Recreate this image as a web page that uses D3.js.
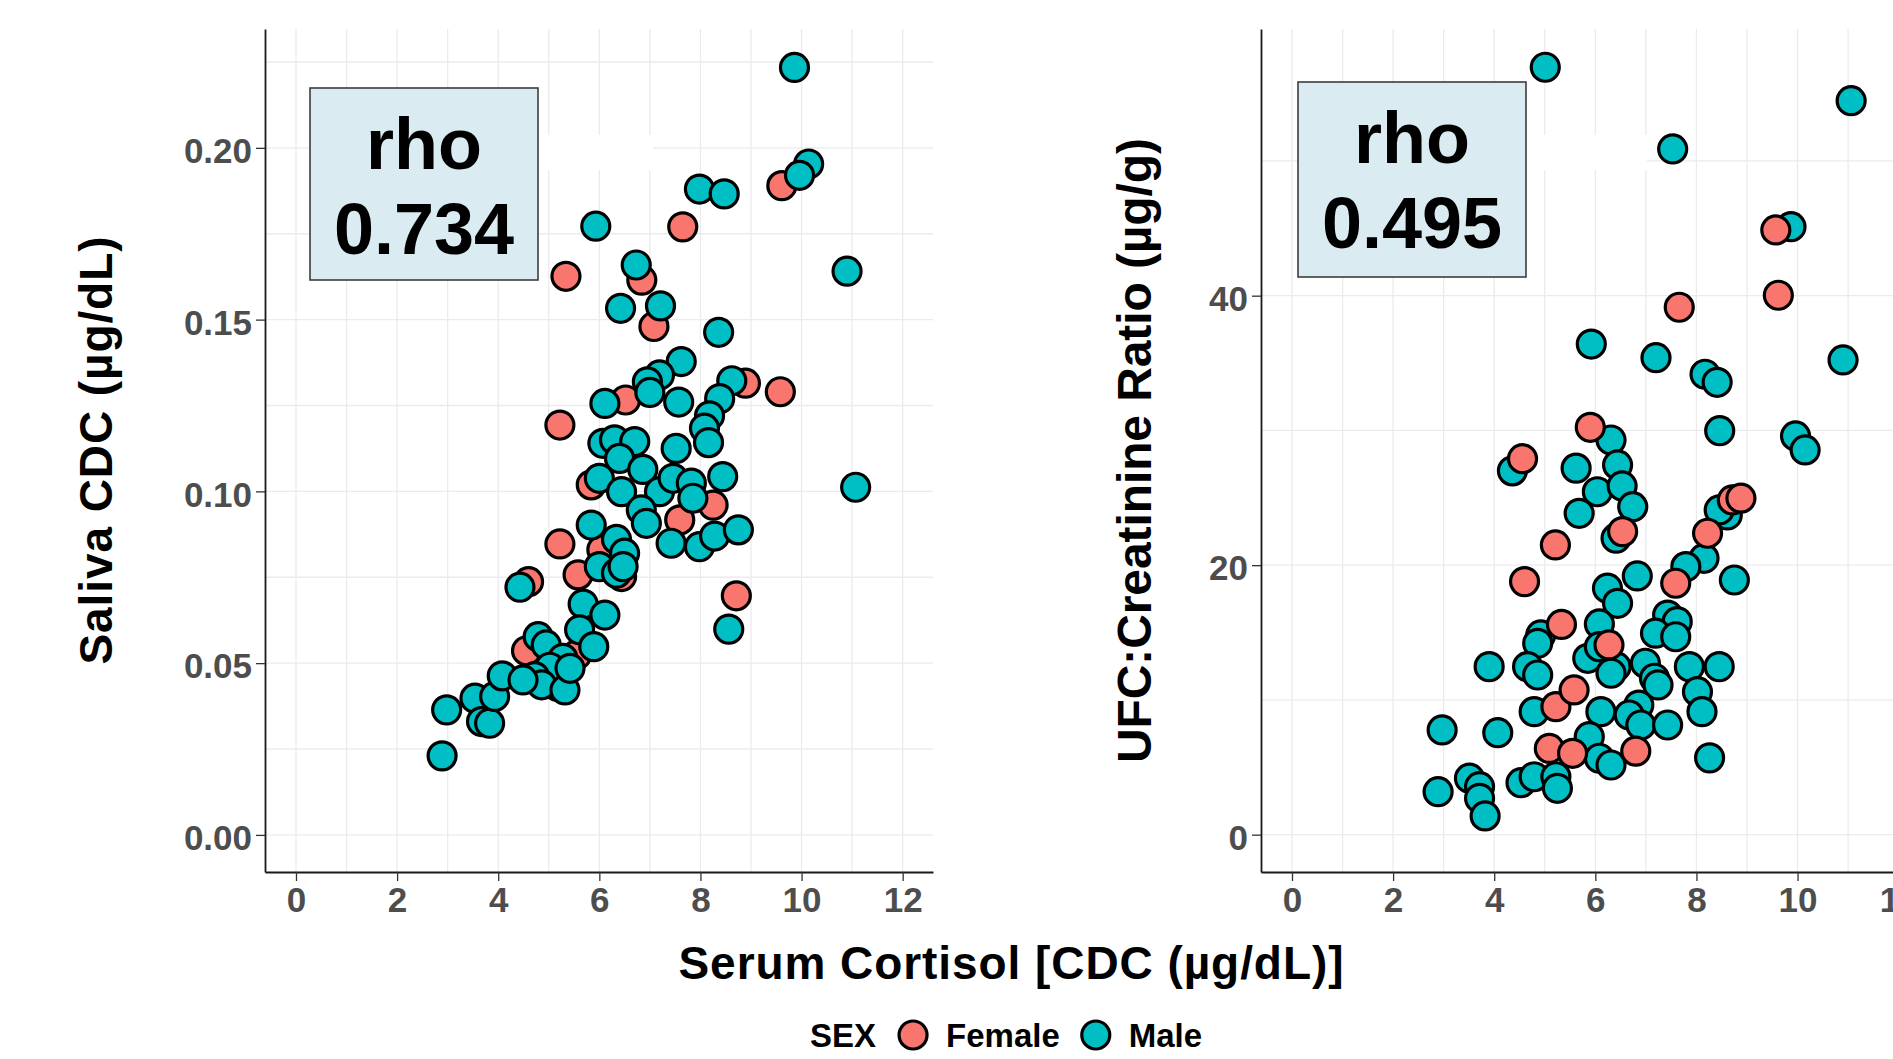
<!DOCTYPE html>
<html>
<head>
<meta charset="utf-8">
<script src="https://cdn.jsdelivr.net/npm/d3@7"></script>
<style>
body { margin: 0; background: #fff; }
text { font-family: "Liberation Sans", Arial, sans-serif; font-weight: bold; }
</style>
</head>
<body>
<svg id="chart" width="1893" height="1059"></svg>
<script>
// ---- data ----
var sexLabels = ["Female", "Male"];
var sexColors = ["#F8766D", "#00BFC4"];
var xTicks = [0, 2, 4, 6, 8, 10, 12];
var salivaTicks = [0, 0.05, 0.10, 0.15, 0.20];
var ufcTicks = [0, 20, 40];
var rhoValues = ["0.734", "0.495"];

// serum cortisol vs saliva CDC
var salivaFemale = [
    [9.61, 0.189], [7.65, 0.177], [5.34, 0.1626], [6.84, 0.1615], [7.08, 0.148],
    [9.58, 0.129], [8.89, 0.1315], [6.52, 0.1266], [5.22, 0.1193], [8.71, 0.0696],
    [5.22, 0.0847], [4.6, 0.0737], [5.84, 0.1019], [8.25, 0.096], [7.59, 0.0917],
    [6.44, 0.0752], [6.05, 0.083], [5.58, 0.0757], [5.55, 0.0524], [4.56, 0.0536],
    [5.18, 0.0432]
];
var salivaMale = [
    [9.86, 0.2234], [10.14, 0.1953], [9.96, 0.192], [7.98, 0.188], [8.47, 0.1866],
    [5.93, 0.1772], [10.9, 0.1641], [6.73, 0.1659], [6.42, 0.1533], [7.21, 0.154],
    [8.36, 0.1463], [7.62, 0.1378], [8.62, 0.1322], [7.19, 0.1339], [6.95, 0.1319],
    [7.0, 0.1288], [6.11, 0.1256], [7.57, 0.126], [8.38, 0.127], [8.18, 0.122],
    [8.08, 0.1184], [8.16, 0.1142], [11.07, 0.1012], [8.56, 0.0599], [7.52, 0.1125],
    [6.07, 0.114], [6.3, 0.115], [6.7, 0.1145], [6.4, 0.1096], [6.86, 0.1064],
    [6.0, 0.1038], [6.44, 0.0999], [7.19, 0.0999], [7.46, 0.1038], [7.82, 0.1024],
    [7.85, 0.098], [8.44, 0.1043], [6.83, 0.0946], [6.93, 0.0907], [5.84, 0.0902],
    [7.42, 0.0849], [7.98, 0.0839], [8.28, 0.087], [8.75, 0.0888], [6.34, 0.086],
    [6.5, 0.082], [6.0, 0.0781], [6.34, 0.0762], [6.47, 0.0781], [5.68, 0.0672],
    [6.11, 0.064], [5.61, 0.0597], [5.89, 0.0548], [2.89, 0.023], [2.98, 0.0364],
    [3.54, 0.0398], [3.67, 0.033], [3.83, 0.0325], [3.93, 0.0403], [4.08, 0.0463],
    [4.43, 0.0721], [4.79, 0.0577], [4.95, 0.0553], [5.28, 0.0514], [5.02, 0.0488],
    [4.72, 0.0461], [4.86, 0.0437], [5.32, 0.0422], [4.49, 0.0451], [5.42, 0.0485]
];

// serum cortisol vs UFC:creatinine
var ufcFemale = [
    [9.57, 44.88], [9.62, 40.03], [7.66, 39.14], [5.9, 30.23], [4.56, 27.9],
    [6.54, 22.49], [5.21, 21.5], [4.6, 18.78], [8.71, 24.84], [8.88, 24.97],
    [8.22, 22.37], [7.59, 18.66], [5.33, 15.6], [6.27, 14.08], [5.22, 9.5],
    [5.58, 10.74], [5.09, 6.4], [6.8, 6.2], [5.55, 6.04]
];
var ufcMale = [
    [5.01, 56.95], [11.06, 54.47], [7.53, 50.89], [9.87, 45.12], [5.92, 36.41],
    [7.2, 35.4], [8.17, 34.17], [8.41, 33.57], [10.9, 35.23], [8.46, 29.98],
    [9.96, 29.59], [10.15, 28.55], [6.31, 29.29], [4.36, 27.0], [5.62, 27.2],
    [6.44, 27.44], [6.04, 25.45], [6.53, 25.88], [6.74, 24.34], [5.68, 23.85],
    [6.41, 22.0], [8.61, 23.73], [8.45, 24.1], [8.15, 20.51], [7.79, 19.89],
    [8.75, 18.9], [6.83, 19.2], [6.24, 18.29], [6.44, 17.17], [7.43, 16.3],
    [7.62, 15.81], [7.19, 14.95], [7.59, 14.69], [6.08, 15.64], [4.92, 14.82],
    [4.86, 14.2], [3.9, 12.47], [4.66, 12.47], [4.86, 11.85], [5.85, 13.09],
    [6.08, 13.95], [6.41, 12.47], [6.31, 11.98], [6.99, 12.72], [7.17, 11.61],
    [7.24, 11.11], [7.86, 12.47], [8.45, 12.47], [8.02, 10.61], [8.11, 9.13],
    [4.79, 9.13], [6.11, 9.13], [6.86, 9.62], [6.67, 8.88], [6.9, 8.14],
    [7.43, 8.14], [2.97, 7.77], [4.07, 7.57], [5.88, 7.27], [8.26, 5.7],
    [6.08, 5.67], [6.31, 5.17], [2.89, 3.19], [3.51, 4.19], [3.71, 3.56],
    [3.71, 2.7], [3.82, 1.39], [4.53, 3.86], [4.79, 4.3], [5.22, 4.3],
    [5.25, 3.44]
];

// ---- layout ----
var svg = d3.select("#chart");
var panelTop = 29, panelBottom = 872, panelWidth = 668;
var xDomain = [-0.613, 12.60];
var xGrid = d3.range(0, 13, 1);

svg.append("rect").attr("width", 1893).attr("height", 1059).attr("fill", "#fff");

function draw_panel(p) {
    var g = svg.append("g");
    var x = d3.scaleLinear().domain(xDomain).range([p.left, p.left + panelWidth]);
    var y = d3.scaleLinear().domain(p.yDomain).range([panelBottom, panelTop]);

    // grid lines (major + minor)
    g.selectAll(".vgrid").data(xGrid).enter().append("line")
        .attr("x1", x).attr("x2", x)
        .attr("y1", panelTop).attr("y2", panelBottom)
        .attr("stroke", "#ebebeb").attr("stroke-width", 1.3);
    g.selectAll(".hgrid").data(p.yGrid).enter().append("line")
        .attr("x1", p.left).attr("x2", p.left + panelWidth)
        .attr("y1", y).attr("y2", y)
        .attr("stroke", "#ebebeb").attr("stroke-width", 1.3);

    // white patch next to the label box
    g.append("rect")
        .attr("x", p.patch[0]).attr("y", p.patch[1])
        .attr("width", p.patch[2]).attr("height", p.patch[3])
        .attr("fill", "#fff");

    // rho box
    var b = p.box;
    g.append("rect")
        .attr("x", b[0]).attr("y", b[1]).attr("width", b[2]).attr("height", b[3])
        .attr("fill", "#daecf2").attr("stroke", "#3c3c3c").attr("stroke-width", 1.6);
    g.append("text")
        .attr("x", b[0] + b[2] / 2).attr("y", b[1] + 81)
        .attr("text-anchor", "middle").attr("font-size", 72)
        .text("rho");
    g.append("text")
        .attr("x", b[0] + b[2] / 2).attr("y", b[1] + 166)
        .attr("text-anchor", "middle").attr("font-size", 72)
        .text(p.rho);

    // points
    var layers = p.femaleOnTop ? [[p.male, 1], [p.female, 0]] : [[p.female, 0], [p.male, 1]];
    layers.forEach(function (l) {
        g.append("g").selectAll("circle").data(l[0]).enter().append("circle")
            .attr("cx", function (d) { return x(d[0]); })
            .attr("cy", function (d) { return y(d[1]); })
            .attr("r", 14)
            .attr("fill", sexColors[l[1]])
            .attr("stroke", "#000").attr("stroke-width", 3.2);
    });

    // axes
    var ax = g.append("g")
        .attr("transform", "translate(0," + panelBottom + ")")
        .call(d3.axisBottom(x).tickValues(xTicks).tickSize(9).tickPadding(6).tickSizeOuter(0));
    var ay = g.append("g")
        .attr("transform", "translate(" + p.left + ",0)")
        .call(d3.axisLeft(y).tickValues(p.yTicks).tickFormat(p.fmt)
            .tickSize(9).tickPadding(4).tickSizeOuter(0));
    [ax, ay].forEach(function (a) {
        a.attr("font-size", 35).attr("font-family", null);
        a.selectAll("text").attr("fill", "#4d4d4d");
        a.selectAll(".tick line").attr("stroke", "#333").attr("stroke-width", 1.3);
        a.select(".domain").attr("stroke", "#1a1a1a").attr("stroke-width", 1.8);
    });
    ay.selectAll("text").attr("dy", "0.42em");

    // y title
    svg.append("text")
        .attr("transform", "translate(" + p.titleX + "," + (panelTop + panelBottom) / 2 + ") rotate(-90)")
        .attr("text-anchor", "middle")
        .attr("font-size", p.titleSize)
        .attr("textLength", p.titleLen)
        .text(p.title);
}

draw_panel({
    left: 265,
    yDomain: [-0.0108, 0.2346],
    yGrid: d3.range(0, 0.23, 0.025),
    yTicks: salivaTicks,
    fmt: d3.format(".2f"),
    female: salivaFemale, male: salivaMale, femaleOnTop: false,
    box: [310, 88, 228, 192], patch: [538, 135, 115, 35],
    rho: rhoValues[0],
    title: "Saliva CDC (µg/dL)", titleX: 112, titleSize: 46, titleLen: 428
});

draw_panel({
    left: 1261,
    yDomain: [-2.77, 59.79],
    yGrid: d3.range(0, 51, 10),
    yTicks: ufcTicks,
    fmt: d3.format("d"),
    female: ufcFemale, male: ufcMale, femaleOnTop: true,
    box: [1298, 82, 228, 195], patch: [1526, 135, 121, 35],
    rho: rhoValues[1],
    title: "UFC:Creatinine Ratio (µg/g)", titleX: 1151, titleSize: 48, titleLen: 625
});

// shared x title
svg.append("text")
    .attr("x", 1011).attr("y", 979)
    .attr("text-anchor", "middle").attr("font-size", 46)
    .attr("textLength", 665)
    .text("Serum Cortisol [CDC (µg/dL)]");

// legend
var legend = svg.append("g").attr("transform", "translate(0,1035)");
var lx = 810;
var t0 = legend.append("text").attr("x", lx).attr("y", 12).attr("font-size", 33).text("SEX");
lx += t0.node().getComputedTextLength() + 37;
sexLabels.forEach(function (s, i) {
    legend.append("circle").attr("cx", lx).attr("cy", 0).attr("r", 14)
        .attr("fill", sexColors[i]).attr("stroke", "#000").attr("stroke-width", 3.2);
    var t = legend.append("text").attr("x", lx + 33).attr("y", 12)
        .attr("font-size", 33).text(s);
    lx += 33 + t.node().getComputedTextLength() + 36;
});
</script>
</body>
</html>
